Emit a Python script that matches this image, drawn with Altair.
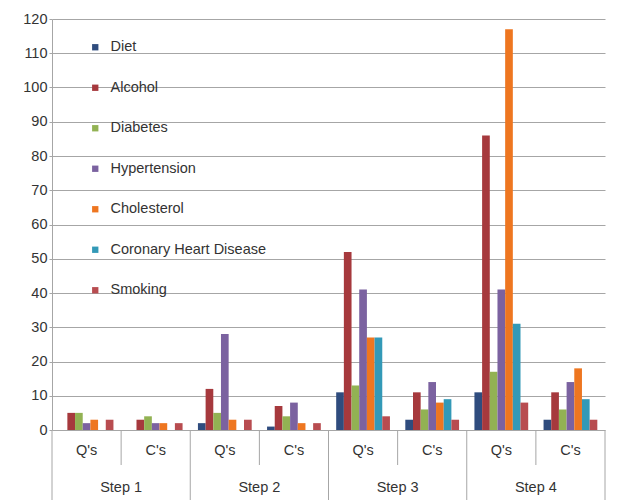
import altair as alt
import pandas as pd

steps = ["Step 1", "Step 2", "Step 3", "Step 4"]
kinds = ["Q's", "C's"]
series = ["Diet", "Alcohol", "Diabetes", "Hypertension", "Cholesterol",
          "Coronary Heart Disease", "Smoking"]
colors = ["#2F4C7E", "#A6393D", "#92B253", "#7B62A0", "#EE7620", "#3399B7", "#B84C50"]

# values per category: Step1 Q, Step1 C, Step2 Q, Step2 C, Step3 Q, Step3 C, Step4 Q, Step4 C
diet = [0, 0, 2, 1, 11, 3, 11, 3]
alcohol = [5, 3, 12, 7, 52, 11, 86, 11]
diabetes = [5, 4, 5, 4, 13, 6, 17, 6]
hypertension = [2, 2, 28, 8, 41, 14, 41, 14]
cholesterol = [3, 2, 3, 2, 27, 8, 117, 18]
chd = [0, 0, 0, 0, 27, 9, 31, 9]
smoking = [3, 2, 3, 2, 4, 3, 8, 3]

y_ticks = list(range(0, 121, 10))

FONT = "Liberation Sans"
TXT = "#333333"
GRID = "#A6A6A6"

cats = [f"{s}|{k}" for s in steps for k in kinds]
values = [diet, alcohol, diabetes, hypertension, cholesterol, chd, smoking]
rows = []
for name, vals in zip(series, values):
    for c, v in zip(cats, vals):
        rows.append({"cat": c, "series": name, "value": v})
bars_df = pd.DataFrame(rows)

kind_df = pd.DataFrame({"cat": cats, "label": [c.split("|")[1] for c in cats]})
step_df = pd.DataFrame({"cat": [f"{s}|{kinds[1]}" for s in steps], "label": steps})
long_df = pd.DataFrame({"cat": [f"{s}|{kinds[0]}" for s in steps]})
short_df = pd.DataFrame({"cat": [f"{s}|{kinds[1]}" for s in steps]})
end_df = pd.DataFrame({"cat": [cats[-1]]})

xscale = alt.Scale(domain=cats, paddingInner=0, paddingOuter=0)

bars = alt.Chart(bars_df).mark_bar().encode(
    x=alt.X("cat:N", scale=xscale, axis=None, sort=cats),
    xOffset=alt.XOffset("series:N", sort=series,
                        scale=alt.Scale(domain=series, paddingInner=0, paddingOuter=1)),
    y=alt.Y("value:Q", scale=alt.Scale(domain=[0, 120], nice=False),
            axis=alt.Axis(values=y_ticks, title=None, grid=True, gridColor=GRID,
                          domainColor=GRID, tickColor=GRID, tickSize=3,
                          labelPadding=2, labelFontSize=14.5, labelFont=FONT,
                          labelColor=TXT)),
    color=alt.Color("series:N", sort=series,
                    scale=alt.Scale(domain=series, range=colors),
                    legend=alt.Legend(orient="none", legendX=36, legendY=21, title=None,
                                      symbolType="square", symbolSize=40,
                                      symbolStrokeWidth=0, labelFontSize=14.5,
                                      labelFont=FONT, labelColor=TXT, rowPadding=25.5,
                                      labelOffset=8, padding=0)),
)

long_rules = alt.Chart(long_df).mark_rule(color=GRID, strokeWidth=1).encode(
    x=alt.X("cat:N", bandPosition=0, scale=xscale, axis=None),
    y=alt.value(411), y2=alt.value(481),
)
end_rule = alt.Chart(end_df).mark_rule(color=GRID, strokeWidth=1).encode(
    x=alt.X("cat:N", bandPosition=1, scale=xscale, axis=None),
    y=alt.value(411), y2=alt.value(481),
)
short_rules = alt.Chart(short_df).mark_rule(color=GRID, strokeWidth=1).encode(
    x=alt.X("cat:N", bandPosition=0, scale=xscale, axis=None),
    y=alt.value(411), y2=alt.value(446),
)
kind_text = alt.Chart(kind_df).mark_text(font=FONT, fontSize=14.5, color=TXT,
                                         baseline="middle").encode(
    x=alt.X("cat:N", scale=xscale, axis=None),
    y=alt.value(432),
    text="label:N",
)
step_text = alt.Chart(step_df).mark_text(font=FONT, fontSize=14.5, color=TXT,
                                         baseline="middle").encode(
    x=alt.X("cat:N", bandPosition=0, scale=xscale, axis=None),
    y=alt.value(469),
    text="label:N",
)

chart = alt.layer(bars, long_rules, end_rule, short_rules, kind_text, step_text).properties(
    width=553, height=411,
    autosize=alt.AutoSizeParams(type="none"),
    padding={"left": 44, "top": 11, "right": 5, "bottom": 70},
    background="white",
).configure_view(stroke="transparent")

chart.save("out.html", embed_options={"renderer": "svg", "actions": False})
